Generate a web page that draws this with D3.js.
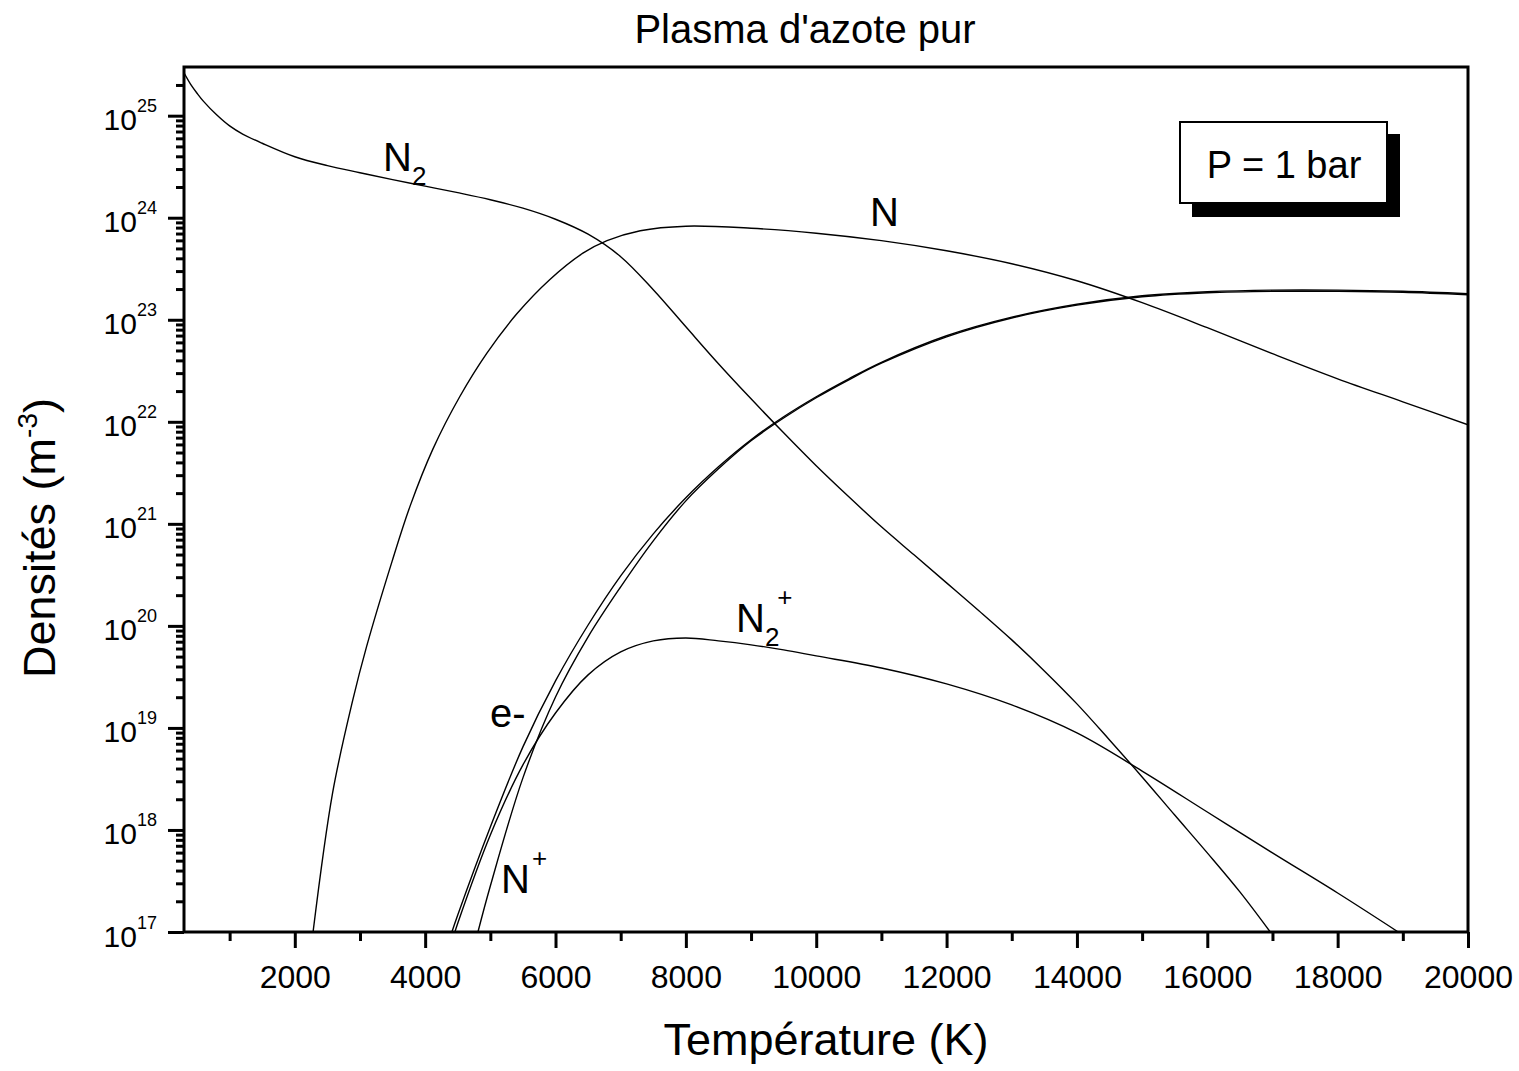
<!DOCTYPE html>
<html>
<head>
<meta charset="utf-8">
<script src="https://cdn.jsdelivr.net/npm/d3@7"></script>
<style>
  body { margin: 0; background: #fff; }
  text { font-family: Arial, "Liberation Sans", sans-serif; fill: #000; }
</style>
</head>
<body>
<svg id="chart" width="1519" height="1071"></svg>
<script>
// Species densities (m^-3) versus temperature (K), pure nitrogen plasma at 1 bar
const tempN2 = [300, 400, 500, 600, 800, 1000, 1200, 1500, 2000, 2500, 3000, 3500, 4000, 4500, 5000, 5500, 6000, 6500, 7000, 7500, 8000, 8500, 9000, 9500, 10000, 10500, 11000, 11500, 12000, 12500, 13000, 13500, 14000, 14500, 15000, 15500, 16000, 16500, 16966];
const densN2 = [2.63e25, 2.04e25, 1.66e25, 1.38e25, 1.02e25, 7.94e24, 6.61e24, 5.37e24, 3.96e24, 3.24e24, 2.76e24, 2.36e24, 2.04e24, 1.76e24, 1.50e24, 1.24e24, 9.66e23, 6.89e23, 4.15e23, 1.97e23, 8.53e22, 3.71e22, 1.68e22, 7.80e21, 3.71e21, 1.84e21, 9.35e20, 4.97e20, 2.64e20, 1.40e20, 7.29e19, 3.62e19, 1.72e19, 7.62e18, 3.31e18, 1.40e18, 5.96e17, 2.47e17, 1e17];

const tempN = [2280, 2580, 2890, 3100, 3490, 3770, 4120, 4530, 4950, 5410, 5910, 6420, 6790, 7300, 8000, 9000, 10000, 11000, 12000, 13000, 14000, 15000, 16000, 17000, 18000, 19000, 20000];
const densN = [1e17, 2.31e18, 1.88e19, 6.22e19, 4.24e20, 1.50e21, 5.43e21, 1.76e22, 4.74e22, 1.15e23, 2.47e23, 4.49e23, 5.96e23, 7.46e23, 8.26e23, 7.89e23, 7.05e23, 5.96e23, 4.74e23, 3.54e23, 2.41e23, 1.47e23, 8.36e22, 4.65e22, 2.64e22, 1.57e22, 9.35e21];

const tempE = [4410, 4500, 5000, 5500, 6000, 6500, 7000, 7500, 8000, 8500, 9000, 9500, 10000, 10500, 11000, 12000, 13000, 14000, 15000, 16000, 17000, 18000, 19000, 20000];
const densE = [1e17, 1.47e17, 1.07e18, 6.52e18, 2.89e19, 1.02e20, 3.09e20, 7.98e20, 1.80e21, 3.62e21, 6.67e21, 1.12e22, 1.76e22, 2.64e22, 3.83e22, 6.97e22, 1.06e23, 1.42e23, 1.72e23, 1.88e23, 1.95e23, 1.95e23, 1.90e23, 1.80e23];

const tempNp = [4810, 5000, 5500, 6000, 6500, 7000, 7500, 8000, 8500, 9000, 9500, 10000, 10500, 11000, 12000, 13000, 14000, 15000, 16000, 17000, 18000, 19000, 20000];
const densNp = [1e17, 2.82e17, 3.24e18, 2.01e19, 7.80e19, 2.41e20, 6.81e20, 1.68e21, 3.46e21, 6.52e21, 1.09e22, 1.72e22, 2.58e22, 3.75e22, 6.81e22, 1.04e23, 1.39e23, 1.68e23, 1.84e23, 1.90e23, 1.90e23, 1.86e23, 1.76e23];

const tempN2p = [4456, 4500, 5000, 5500, 6000, 6500, 7000, 7500, 8000, 8500, 9000, 9500, 10000, 11000, 12000, 13000, 14000, 15000, 16000, 17000, 18000, 18930];
const densN2p = [1e17, 1.22e17, 8.93e17, 4.34e18, 1.40e19, 3.31e19, 5.56e19, 7.13e19, 7.62e19, 7.13e19, 6.52e19, 5.82e19, 5.08e19, 3.87e19, 2.70e19, 1.68e19, 8.93e18, 3.78e18, 1.50e18, 5.96e17, 2.41e17, 1e17];

// Axis ticks
const xMajorTicks = [2000, 4000, 6000, 8000, 10000, 12000, 14000, 16000, 18000, 20000];
const xMinorTicks = [1000, 3000, 5000, 7000, 9000, 11000, 13000, 15000, 17000, 19000];
const yDecadeExponents = [17, 18, 19, 20, 21, 22, 23, 24, 25];

const svg = d3.select("#chart");
const frame = { left: 184, top: 67, right: 1468, bottom: 932 };

const x = d3.scaleLinear().domain([300, 20000]).range([frame.left, frame.right]);
const y = d3.scaleLog().domain([1e17, 3e25]).range([frame.bottom, frame.top]);

// Clip the curves to the plotting frame
svg.append("defs").append("clipPath").attr("id", "plotClip")
  .append("rect")
  .attr("x", frame.left).attr("y", frame.top)
  .attr("width", frame.right - frame.left).attr("height", frame.bottom - frame.top);

const line = d3.line()
  .x(d => x(d[0]))
  .y(d => y(d[1]))
  .curve(d3.curveCatmullRom.alpha(0.5));

const series = [
  [tempN2, densN2],
  [tempN, densN],
  [tempE, densE],
  [tempNp, densNp],
  [tempN2p, densN2p]
];

const curves = svg.append("g").attr("clip-path", "url(#plotClip)");
series.forEach(([t, n]) => {
  curves.append("path")
    .datum(t.map((v, i) => [v, n[i]]))
    .attr("d", line)
    .attr("fill", "none")
    .attr("stroke", "#000")
    .attr("stroke-width", 1.4);
});

// Minor ticks (drawn first so majors sit on top)
const yMinorTicks = [];
yDecadeExponents.forEach(e => {
  for (let m = 2; m <= 9; m++) {
    const v = m * Math.pow(10, e);
    if (v <= 3e25) yMinorTicks.push(v);
  }
});

const xMinorAxis = d3.axisBottom(x).tickValues(xMinorTicks).tickSize(9).tickFormat("");
svg.append("g").attr("transform", `translate(0,${frame.bottom})`).call(xMinorAxis)
  .call(g => g.select(".domain").remove())
  .call(g => g.selectAll("line").attr("stroke-width", 3));

const yMinorAxis = d3.axisLeft(y).tickValues(yMinorTicks).tickSize(8).tickFormat("");
svg.append("g").attr("transform", `translate(${frame.left},0)`).call(yMinorAxis)
  .call(g => g.select(".domain").remove())
  .call(g => g.selectAll("line").attr("stroke-width", 3));

// Major x axis
const xAxis = d3.axisBottom(x).tickValues(xMajorTicks).tickSize(16).tickPadding(0).tickFormat(d3.format("d"));
svg.append("g").attr("transform", `translate(0,${frame.bottom})`).call(xAxis)
  .call(g => g.select(".domain").remove())
  .call(g => g.selectAll("line").attr("stroke-width", 3))
  .call(g => g.selectAll("text")
    .attr("font-size", 32)
    .attr("font-family", "Arial, 'Liberation Sans', sans-serif")
    .attr("dy", null)
    .attr("y", 56));

// Major y axis with power-of-ten labels
const yAxis = d3.axisLeft(y).tickValues(yDecadeExponents.map(e => Math.pow(10, e))).tickSize(16).tickFormat("");
const yAxisG = svg.append("g").attr("transform", `translate(${frame.left},0)`).call(yAxis)
  .call(g => g.select(".domain").remove())
  .call(g => g.selectAll("line").attr("stroke-width", 3));

yAxisG.selectAll(".tick").each(function (d) {
  const t = d3.select(this).append("text")
    .attr("x", -27).attr("y", 14)
    .attr("text-anchor", "end")
    .attr("font-size", 30)
    .attr("font-family", "Arial, 'Liberation Sans', sans-serif")
    .attr("fill", "#000");
  t.append("tspan").text("10");
  t.append("tspan").attr("font-size", 18).attr("dy", -18).text(Math.round(Math.log10(d)));
});

// Plot frame
svg.append("rect")
  .attr("x", frame.left).attr("y", frame.top)
  .attr("width", frame.right - frame.left).attr("height", frame.bottom - frame.top)
  .attr("fill", "none").attr("stroke", "#000").attr("stroke-width", 3);

// Title and axis titles
svg.append("text").attr("x", 805).attr("y", 43).attr("text-anchor", "middle")
  .attr("font-size", 40).text("Plasma d'azote pur");

svg.append("text").attr("x", 826).attr("y", 1055).attr("text-anchor", "middle")
  .attr("font-size", 45).text("Température (K)");

const yTitle = svg.append("text")
  .attr("transform", "translate(55,538) rotate(-90)")
  .attr("text-anchor", "middle")
  .attr("font-size", 45);
yTitle.append("tspan").text("Densités (m");
yTitle.append("tspan").attr("font-size", 28).attr("dy", -18).text("-3");
yTitle.append("tspan").attr("dy", 18).text(")");

// Species labels
function speciesLabel(px, py, main, sub, sup) {
  const t = svg.append("text").attr("x", px).attr("y", py).attr("font-size", 40);
  t.append("tspan").text(main);
  if (sub) t.append("tspan").attr("font-size", 26).attr("dy", 14).text(sub);
  if (sup) {
    t.append("tspan").attr("font-size", 26).attr("dy", sub ? -40 : -26).attr("dx", sub ? -2 : 2).text(sup);
  }
}
speciesLabel(383, 171, "N", "2", null);
speciesLabel(870, 226, "N", null, null);
speciesLabel(736, 632, "N", "2", "+");
speciesLabel(490, 727, "e-", null, null);
speciesLabel(501, 893, "N", null, "+");

// Pressure annotation box with drop shadow
svg.append("rect").attr("x", 1192).attr("y", 134).attr("width", 208).attr("height", 83).attr("fill", "#000");
svg.append("rect").attr("x", 1180).attr("y", 122).attr("width", 207).attr("height", 81)
  .attr("fill", "#fff").attr("stroke", "#000").attr("stroke-width", 2);
svg.append("text").attr("x", 1284).attr("y", 178).attr("text-anchor", "middle")
  .attr("font-size", 38).text("P = 1 bar");
</script>
</body>
</html>
